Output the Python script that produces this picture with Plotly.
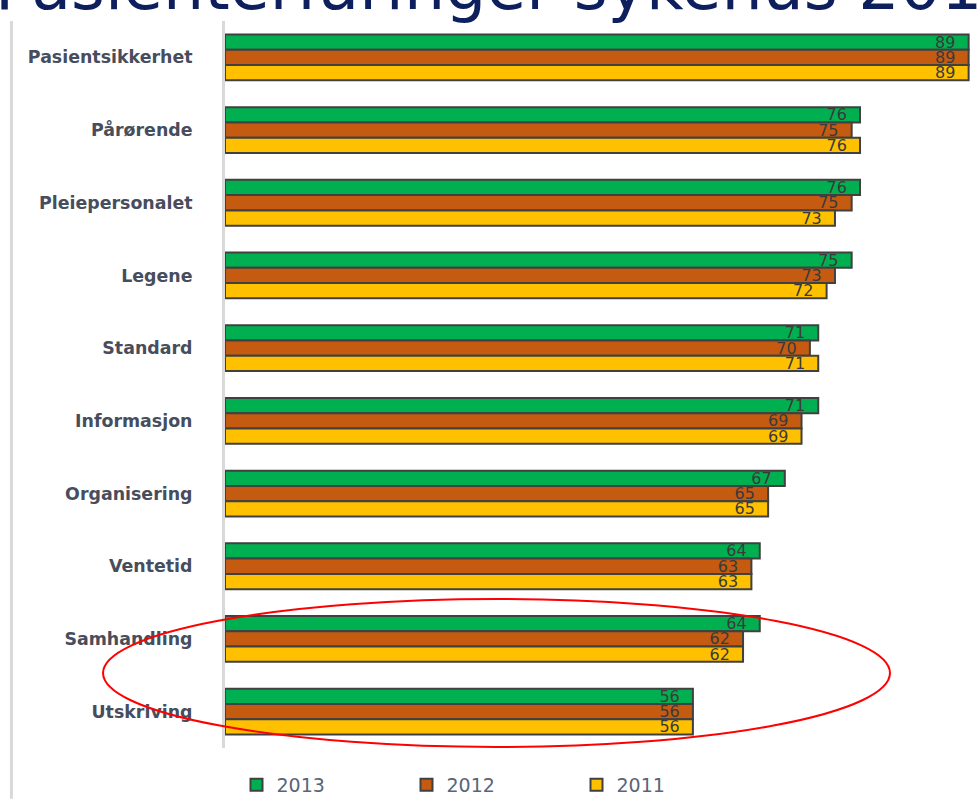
import plotly.graph_objects as go

categories = ["Pasientsikkerhet", "Pårørende", "Pleiepersonalet", "Legene", "Standard",
              "Informasjon", "Organisering", "Ventetid", "Samhandling", "Utskriving"]
v2013 = [89, 76, 76, 75, 71, 71, 67, 64, 64, 56]
v2012 = [89, 75, 75, 73, 70, 69, 65, 63, 62, 56]
v2011 = [89, 76, 73, 72, 71, 69, 65, 63, 62, 56]
series_names = ["2013", "2012", "2011"]
colors = ["#00B050", "#C55A11", "#FFC000"]
title_text = "Pasienterfaringer sykehus 2011-2013"

NB = "\u00a0"
fig = go.Figure()
for name, vals, col in zip(series_names, [v2013, v2012, v2011], colors):
    fig.add_trace(go.Bar(
        name=name, y=categories, x=vals, orientation="h",
        marker=dict(color=col, line=dict(color="#404040", width=2)),
        text=[str(v) + NB * 2 for v in vals], textposition="inside", insidetextanchor="end",
        textfont=dict(family="DejaVu Sans", size=16, color="#3a3a3a"),
        constraintext="none", cliponaxis=False,
    ))

fig.update_layout(
    barmode="group", bargap=0.37, bargroupgap=0,
    width=977, height=804,
    margin=dict(l=225, r=0, t=21, b=51),
    plot_bgcolor="white", paper_bgcolor="white",
    showlegend=True,
    legend=dict(orientation="h", x=0.0153, y=-0.025, yanchor="top", xanchor="left",
                entrywidth=125, entrywidthmode="pixels",
                font=dict(family="DejaVu Sans", size=19, color="#5a6478"),
                traceorder="normal"),
    xaxis=dict(range=[0, 90], showgrid=False, showticklabels=False, zeroline=False,
               showline=False),
    yaxis=dict(autorange="reversed", showgrid=False, showline=True, linecolor="#d9d9d9",
               linewidth=3, ticks="", ticklabelstandoff=26,
               tickfont=dict(family="DejaVu Sans", size=17.4, color="#474d5c", weight="bold")),
    font=dict(family="DejaVu Sans"),
)

# page border line on the left
fig.add_shape(type="line", xref="paper", yref="paper",
              x0=-0.284, x1=-0.284, y0=1, y1=-51 / 732,
              line=dict(color="#d9d9d9", width=3))

# red ellipse highlighting the last two categories
fig.add_shape(type="circle", xref="paper", yref="paper",
              x0=-0.1622, x1=0.8843, y0=0.2049, y1=0.0014,
              line=dict(color="#ff0000", width=2))

fig.add_annotation(text=title_text, xref="paper", yref="paper",
                   x=-0.308, y=1.0478, xanchor="left", yanchor="middle", showarrow=False,
                   font=dict(family="DejaVu Sans", size=65, color="#0d1f5c"))

fig.write_html("out.html")
